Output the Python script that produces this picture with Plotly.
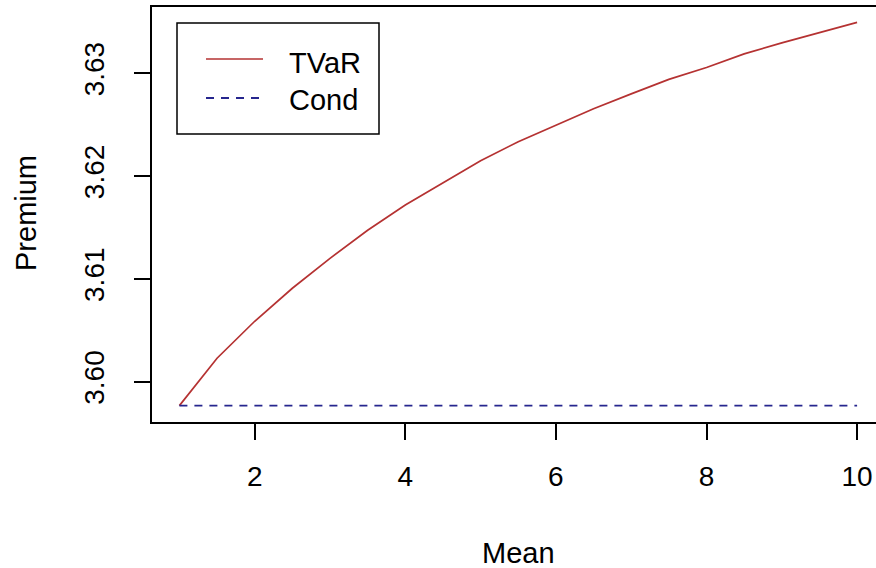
import plotly.graph_objects as go

# ---- data ----
mean_values = [1.0, 1.5, 2.0, 2.5, 3.0, 3.5, 4.0, 4.5, 5.0, 5.5,
               6.0, 6.5, 7.0, 7.5, 8.0, 8.5, 9.0, 9.5, 10.0]
tvar_premium = [3.59767, 3.60228, 3.60588, 3.60909, 3.61200, 3.61473, 3.61718,
                3.61938, 3.62150, 3.62334, 3.62499, 3.62656, 3.62800, 3.62941,
                3.63056, 3.63189, 3.63296, 3.63393, 3.63496]
cond_premium = [3.59767, 3.59767, 3.59767, 3.59767, 3.59767, 3.59767, 3.59767,
                3.59767, 3.59767, 3.59767, 3.59767, 3.59767, 3.59767, 3.59767,
                3.59767, 3.59767, 3.59767, 3.59767, 3.59767]
x_ticks = [2, 4, 6, 8, 10]
y_ticks = [3.60, 3.61, 3.62, 3.63]
series_names = ["TVaR", "Cond"]

# ---- styling ----
# The reference's plot box runs a little past the right edge of the 876px
# window, so the figure is drawn slightly wider and the overflow is hidden.
W, H = 885, 568
L, T, R, B = 152, 7, 885, 422          # plot area in page pixels
FONT = "Liberation Sans, Arial, sans-serif"
RED = "#B53232"
BLUE = "#26268E"


def px_x(p):
    """page pixel x -> paper coordinate"""
    return (p - L) / (R - L)


def px_y(p):
    """page pixel y -> paper coordinate"""
    return (B - p) / (B - T)


fig = go.Figure()
fig.add_trace(go.Scatter(x=mean_values, y=tvar_premium, mode="lines",
                         name=series_names[0],
                         line=dict(color=RED, width=1.7)))
fig.add_trace(go.Scatter(x=mean_values, y=cond_premium, mode="lines",
                         name=series_names[1],
                         line=dict(color=BLUE, width=1.8, dash="8px,7px")))

# y range chosen so that the plot area spans page y 7..422 as in the reference
y_per_px = 0.01 / 102.8
y_top = 3.63 + (73.3 - T) * y_per_px
y_bot = 3.60 - (B - 381.7) * y_per_px
x_per_px = 1 / 75.3
x_left = 1 - (179.4 - L) * x_per_px
x_right = 1 + (R - 179.4) * x_per_px

fig.update_layout(
    width=W, height=H,
    margin=dict(l=L, r=W - R, t=T, b=H - B, pad=0),
    paper_bgcolor="white", plot_bgcolor="white",
    showlegend=False,
    font=dict(family=FONT, size=28, color="black"),
)
fig.update_xaxes(
    range=[x_left, x_right], tickvals=x_ticks, ticktext=[str(v) for v in x_ticks],
    showgrid=False, zeroline=False,
    showline=True, mirror=True, linecolor="black", linewidth=1.5,
    ticks="outside", ticklen=16, tickwidth=1.5, tickcolor="black",
    ticklabelstandoff=13,
)
fig.update_yaxes(
    range=[y_bot, y_top], tickvals=y_ticks, tickformat=".2f",
    showgrid=False, zeroline=False,
    showline=True, mirror=False, linecolor="black", linewidth=1.5,
    ticks="outside", ticklen=16, tickwidth=1.5, tickcolor="black",
    tickangle=-90, ticklabelstandoff=19,
)

# axis titles
fig.add_annotation(text="Mean", xref="paper", yref="paper",
                   x=px_x(518), y=px_y(553), xanchor="center", yanchor="middle",
                   showarrow=False, font=dict(size=29))
fig.add_annotation(text="Premium", xref="paper", yref="paper",
                   x=px_x(26), y=px_y(213), xanchor="center", yanchor="middle",
                   textangle=-90, showarrow=False, font=dict(size=29))

# legend (drawn like R's legend box)
fig.add_shape(type="rect", xref="paper", yref="paper",
              x0=px_x(177), x1=px_x(379), y0=px_y(23), y1=px_y(134),
              line=dict(color="black", width=1.5), fillcolor="white")
fig.add_shape(type="line", xref="paper", yref="paper",
              x0=px_x(206), x1=px_x(263), y0=px_y(59), y1=px_y(59),
              line=dict(color=RED, width=1.7))
fig.add_shape(type="line", xref="paper", yref="paper",
              x0=px_x(206), x1=px_x(263), y0=px_y(98), y1=px_y(98),
              line=dict(color=BLUE, width=1.8, dash="8px,7px"))
for name, yc in zip(series_names, [63, 100]):
    fig.add_annotation(text=name, xref="paper", yref="paper",
                       x=px_x(287), y=px_y(yc), xanchor="left", yanchor="middle",
                       showarrow=False, font=dict(size=29))

# remove the browser's default page margin so the figure fills the window
fig.write_html(
    "out.html",
    config={"displayModeBar": False},
    post_script="document.body.style.margin='0';"
                "document.body.style.overflow='hidden';"
                "document.documentElement.style.overflow='hidden';",
)
